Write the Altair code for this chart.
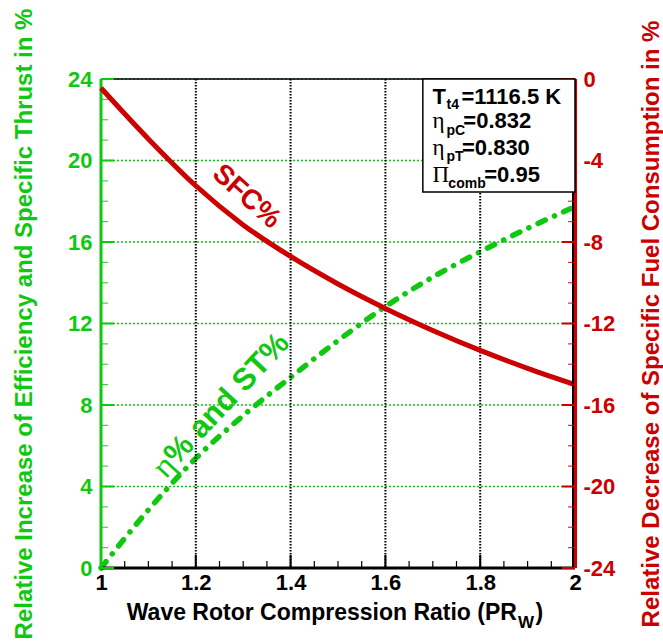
import altair as alt
import pandas as pd

# ---------------- data ----------------
pr = [1.0, 1.1, 1.2, 1.3, 1.4, 1.5, 1.6, 1.7, 1.8, 1.9, 2.0]
eff_st = [0.0, 2.85, 5.38, 7.48, 9.36, 11.16, 12.83, 14.28, 15.52, 16.67, 17.73]
sfc = [-0.44, -2.94, -5.24, -7.16, -8.71, -10.06, -11.26, -12.34, -13.32, -14.20, -15.00]

x_ticks = [1.0, 1.2, 1.4, 1.6, 1.8, 2.0]
x_minor = [1.05, 1.1, 1.15, 1.25, 1.3, 1.35, 1.45, 1.5, 1.55, 1.65, 1.7, 1.75, 1.85, 1.9, 1.95]
x_grid = [1.2, 1.4, 1.6, 1.8]
left_ticks = [0, 4, 8, 12, 16, 20, 24]
left_minor = [1, 2, 3, 5, 6, 7, 9, 10, 11, 13, 14, 15, 17, 18, 19, 21, 22, 23]
right_ticks = [-24, -20, -16, -12, -8, -4, 0]
right_minor = [-23, -22, -21, -19, -18, -17, -15, -14, -13, -11, -10, -9, -7, -6, -5, -3, -2, -1]
y_grid = [4, 8, 12, 16, 20, 24]

# annotation texts (positions in data units: x = PR_W, y = left axis %)
legend_main_text = ["T", "=1116.5 K", "=0.832", "=0.830", "=0.95"]
legend_main_x = [1.6995, 1.7605, 1.7645, 1.7615, 1.8085]
legend_main_y = [22.77, 22.77, 21.58, 20.27, 18.96]
legend_sym_text = ["η", "η", "Π"]
legend_sym_x = [1.6995, 1.6995, 1.6995]
legend_sym_y = [21.58, 20.27, 18.96]
legend_sub_text = ["t4", "pC", "pT", "comb"]
legend_sub_x = [1.729, 1.729, 1.729, 1.7328]
legend_sub_y = [22.53, 21.25, 19.97, 18.65]
box_x = [1.679]
box_x2 = [2.0]
box_y = [18.45]
box_y2 = [24.0]

GREEN = "#10C810"
RED = "#CC0000"
FONT = "Liberation Sans"
SERIF = "Liberation Serif"
W, H = 474, 489

xs = alt.Scale(domain=[1, 2], nice=False, zero=False)
yL = alt.Scale(domain=[0, 24], nice=False, zero=False)
yR = alt.Scale(domain=[-24, 0], nice=False, zero=False)

AX_X = alt.Axis(
    values=x_ticks, format="~g", title=None, ticks=False, domain=False, grid=False,
    labelFont=FONT, labelFontSize=22, labelFontWeight="bold", labelColor="black",
    labelPadding=4, labelFlush=False)
AX_YL = alt.Axis(
    values=left_ticks, title="Relative Increase of Efficiency and Specific Thrust in %",
    ticks=False, domain=False, grid=False, labelFlush=False,
    labelFont=FONT, labelFontSize=22, labelFontWeight="bold", labelColor=GREEN,
    labelPadding=9, titleFont=FONT, titleFontSize=24, titleFontWeight="bold",
    titleColor=GREEN, titlePadding=31)
AX_YR = alt.Axis(
    orient="right", values=right_ticks, labelExpr="'' + datum.value",
    title="Relative Decrease of Specific Fuel Consumption in %",
    ticks=False, domain=False, grid=False, labelFlush=False,
    labelFont=FONT, labelFontSize=22, labelFontWeight="bold", labelColor=RED,
    labelPadding=8, titleFont=FONT, titleFontSize=24, titleFontWeight="bold",
    titleColor=RED, titlePadding=25, titleAngle=270, titleBaseline="top")


def X(field):
    return alt.X(field, type="quantitative", scale=xs, axis=AX_X)


def YL(field):
    return alt.Y(field, type="quantitative", scale=yL, axis=AX_YL)


def YR(field):
    return alt.Y(field, type="quantitative", scale=yR, axis=AX_YR)


df = pd.DataFrame({"pr": pr, "eff": eff_st, "sfc": sfc})

# ---------------- left (green) layer ----------------
green_line = alt.Chart(df).mark_line(
    color=GREEN, strokeWidth=5.5, strokeDash=[8, 10, 0.1, 10], strokeCap="round",
    interpolate="monotone"
).encode(x=X("pr"), y=YL("eff"))

grid_h = alt.Chart(pd.DataFrame({"v": y_grid})).mark_rule(
    color=GREEN, strokeWidth=1.5, strokeDash=[2, 2]
).encode(y=YL("v"), x=alt.value(0), x2=alt.value(W))

grid_v = alt.Chart(pd.DataFrame({"v": x_grid})).mark_rule(
    color="black", strokeWidth=2, strokeDash=[1.5, 1.5]
).encode(x=X("v"), y=alt.value(0), y2=alt.value(H))

frame_top = alt.Chart(pd.DataFrame({"v": [24]})).mark_rule(
    color="black", strokeWidth=1.5
).encode(y=YL("v"), x=alt.value(0), x2=alt.value(W))

frame_bottom = alt.Chart(pd.DataFrame({"v": [0]})).mark_rule(
    color="black", strokeWidth=3
).encode(y=YL("v"), x=alt.value(0), x2=alt.value(W))

x_major = alt.Chart(pd.DataFrame({"v": x_grid})).mark_rule(
    color="black", strokeWidth=2
).encode(x=X("v"), y=alt.value(H - 13), y2=alt.value(H))

x_min = alt.Chart(pd.DataFrame({"v": x_minor})).mark_rule(
    color="black", strokeWidth=1.2
).encode(x=X("v"), y=alt.value(H - 7), y2=alt.value(H))

left_dom = alt.Chart(pd.DataFrame({"v": [0]})).mark_rule(
    color=GREEN, strokeWidth=3
).encode(x=alt.value(0), y=alt.value(0), y2=alt.value(H))

l_major = alt.Chart(pd.DataFrame({"v": left_ticks})).mark_rule(
    color=GREEN, strokeWidth=2
).encode(y=YL("v"), x=alt.value(0), x2=alt.value(13))

l_min = alt.Chart(pd.DataFrame({"v": left_minor})).mark_rule(
    color=GREEN, strokeWidth=1.2, opacity=0.8
).encode(y=YL("v"), x=alt.value(0), x2=alt.value(7))

sfc_label = alt.Chart(pd.DataFrame({"x": [1.3067], "y": [18.22], "t": ["SFC%"]})).mark_text(
    font=FONT, fontSize=28, fontWeight="bold", color=RED, angle=42,
    align="center", baseline="middle"
).encode(x=X("x"), y=YL("y"), text="t:N")

eta_anchor = pd.DataFrame({"x": [1.146], "y": [5.28], "a": ["η"], "b": ["% and ST%"]})
eta_sym = alt.Chart(eta_anchor).mark_text(
    font=SERIF, fontSize=33, color=GREEN, angle=313, align="right", baseline="middle"
).encode(x=X("x"), y=YL("y"), text="a:N")
eta_rest = alt.Chart(eta_anchor).mark_text(
    font=FONT, fontSize=31, fontWeight="bold", color=GREEN, angle=313,
    align="left", baseline="middle"
).encode(x=X("x"), y=YL("y"), text="b:N")

xt = pd.DataFrame({"x": [1.8775, 1.8775, 1.9166], "y": [-2.552, -2.945, -2.552],
                   "t": ["Wave Rotor Compression Ratio (PR", "W", ")"]})
x_title_main = alt.Chart(xt.iloc[[0]]).mark_text(
    font=FONT, fontSize=23, fontWeight="bold", color="black", align="right",
    baseline="alphabetic"
).encode(x=X("x"), y=YL("y"), text="t:N")
x_title_sub = alt.Chart(xt.iloc[[1]]).mark_text(
    font=FONT, fontSize=17, fontWeight="bold", color="black", align="left",
    baseline="alphabetic", dx=1
).encode(x=X("x"), y=YL("y"), text="t:N")
x_title_end = alt.Chart(xt.iloc[[2]]).mark_text(
    font=FONT, fontSize=23, fontWeight="bold", color="black", align="left",
    baseline="alphabetic"
).encode(x=X("x"), y=YL("y"), text="t:N")

left_layer = alt.layer(
    green_line, grid_h, grid_v, frame_top, frame_bottom, x_major, x_min,
    left_dom, l_major, l_min, sfc_label, eta_sym, eta_rest,
    x_title_main, x_title_sub, x_title_end,
)

# ---------------- right (red) layer ----------------
red_line = alt.Chart(df).mark_line(
    color=RED, strokeWidth=5, interpolate="monotone"
).encode(x=X("pr"), y=YR("sfc"))

right_black = alt.Chart(pd.DataFrame({"v": [0]})).mark_rule(
    color="black", strokeWidth=2
).encode(x=alt.value(W - 2), y=alt.value(0), y2=alt.value(H))

right_dom = alt.Chart(pd.DataFrame({"v": [0]})).mark_rule(
    color=RED, strokeWidth=3
).encode(x=alt.value(W + 0.5), y=alt.value(0), y2=alt.value(H))

r_major = alt.Chart(pd.DataFrame({"v": right_ticks})).mark_rule(
    color=RED, strokeWidth=2
).encode(y=YR("v"), x=alt.value(W - 13), x2=alt.value(W))

r_min = alt.Chart(pd.DataFrame({"v": right_minor})).mark_rule(
    color=RED, strokeWidth=1.2, opacity=0.8
).encode(y=YR("v"), x=alt.value(W - 7), x2=alt.value(W))

box = alt.Chart(pd.DataFrame({"x": box_x, "x2": box_x2, "y": [v - 24 for v in box_y],
                              "y2": [v - 24 for v in box_y2]})).mark_rect(
    fill="white", stroke="black", strokeWidth=1.5
).encode(x=X("x"), x2="x2:Q", y=YR("y"), y2="y2:Q")

leg_main = alt.Chart(pd.DataFrame({"x": legend_main_x, "y": [v - 24 for v in legend_main_y],
                                   "t": legend_main_text})).mark_text(
    font=FONT, fontSize=22, fontWeight="bold", color="black", align="left",
    baseline="alphabetic"
).encode(x=X("x"), y=YR("y"), text="t:N")

leg_sym = alt.Chart(pd.DataFrame({"x": legend_sym_x, "y": [v - 24 for v in legend_sym_y],
                                  "t": legend_sym_text})).mark_text(
    font=SERIF, fontSize=23, color="black", align="left", baseline="alphabetic"
).encode(x=X("x"), y=YR("y"), text="t:N")

leg_sub = alt.Chart(pd.DataFrame({"x": legend_sub_x, "y": [v - 24 for v in legend_sub_y],
                                  "t": legend_sub_text})).mark_text(
    font=FONT, fontSize=14, fontWeight="bold", color="black", align="left",
    baseline="alphabetic"
).encode(x=X("x"), y=YR("y"), text="t:N")

right_layer = alt.layer(red_line, right_black, right_dom, r_major, r_min,
                        box, leg_main, leg_sym, leg_sub)

chart = alt.layer(left_layer, right_layer).resolve_scale(y="independent").properties(
    width=W, height=H,
    padding={"left": 101, "top": 79, "right": 663 - 101 - W, "bottom": 644 - 79 - H},
    autosize=alt.AutoSizeParams(type="none"),
    background="white",
).configure_view(stroke=None)

chart.save("out.html", embed_options={"renderer": "svg", "actions": False})
